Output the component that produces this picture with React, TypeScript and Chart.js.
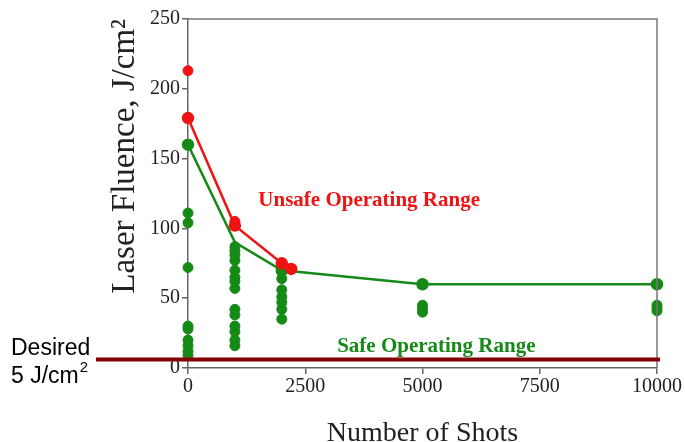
import React, { useEffect, useRef } from "react";
import { Chart, registerables } from "chart.js";

Chart.register(...registerables);

// ---- data ----
const redLineX = [0, 1000, 2000, 2200];
const redLineY = [179, 102, 75, 71];
const redExtraX = [0, 1000];
const redExtraY = [213, 105];

const greenLineX = [0, 1000, 2000, 5000, 10000];
const greenLineY = [160, 90, 70, 60, 60];

const green0 = [111, 104, 72, 30, 28, 20, 16, 12, 9];
const green1000 = [87, 84, 81, 77, 70, 65, 62, 57, 42, 38, 30, 26, 20, 16];
const green2000 = [69, 64, 56, 51, 47, 42, 35];
const green5000 = [45, 42, 40];
const green10000 = [45, 43, 41];

const xTicks = [0, 2500, 5000, 7500, 10000];
const yTicks = [0, 50, 100, 150, 200, 250];
const desiredLevel = 6;

const xTitle = "Number of Shots";
const yTitle = "Laser Fluence, J/cm²";
const unsafeLabel = "Unsafe Operating Range";
const safeLabel = "Safe Operating Range";
const unsafePos = { x: 1500, y: 120 };
const safePos = { x: 3180, y: 15 };

const RED = "#ee1414";
const GREEN = "#168a16";
const DARKRED = "#820000";

const pts = (xs: number[], ys: number[]) => xs.map((x, i) => ({ x, y: ys[i] }));
const col = (x: number, ys: number[]) => ys.map((y) => ({ x, y }));

const overlay = {
  id: "overlay",
  afterDatasetsDraw(chart: any) {
    const { ctx, chartArea, scales } = chart;
    const xs = scales.x;
    const ys = scales.y;
    ctx.save();
    // frame top + right
    ctx.strokeStyle = "#777";
    ctx.lineWidth = 1.5;
    ctx.beginPath();
    ctx.moveTo(chartArea.left, chartArea.top);
    ctx.lineTo(chartArea.right, chartArea.top);
    ctx.lineTo(chartArea.right, chartArea.bottom);
    ctx.stroke();

    // desired level line
    const yd = ys.getPixelForValue(desiredLevel);
    ctx.strokeStyle = DARKRED;
    ctx.lineWidth = 4;
    ctx.beginPath();
    ctx.moveTo(96, yd);
    ctx.lineTo(chartArea.right + 3, yd);
    ctx.stroke();

    // region labels
    ctx.font = "bold 21px 'Liberation Serif', serif";
    ctx.textBaseline = "middle";
    ctx.textAlign = "left";
    ctx.fillStyle = RED;
    ctx.fillText(unsafeLabel, xs.getPixelForValue(unsafePos.x), ys.getPixelForValue(unsafePos.y));
    ctx.fillStyle = GREEN;
    ctx.fillText(safeLabel, xs.getPixelForValue(safePos.x), ys.getPixelForValue(safePos.y));

    // desired text
    ctx.fillStyle = "#000";
    ctx.textBaseline = "alphabetic";
    ctx.font = "23px 'Liberation Sans', Arial, sans-serif";
    ctx.fillText("Desired", 11, 355);
    ctx.fillText("5 J/cm", 11, 383);
    const w = ctx.measureText("5 J/cm").width;
    ctx.font = "15px 'Liberation Sans', Arial, sans-serif";
    ctx.fillText("2", 11 + w + 1, 372);
    ctx.restore();
  },
};

export default function App() {
  const ref = useRef<HTMLCanvasElement | null>(null);
  useEffect(() => {
    if (!ref.current) return;
    const serif = "'Liberation Serif', 'Times New Roman', serif";
    const chart = new Chart(ref.current, {
      type: "scatter",
      data: {
        datasets: [
          {
            data: pts(redExtraX, redExtraY),
            backgroundColor: RED,
            borderColor: RED,
            pointRadius: 5,
            showLine: false,
            clip: false,
          } as any,
          {
            data: pts(redLineX, redLineY),
            backgroundColor: RED,
            borderColor: RED,
            borderWidth: 2.5,
            pointRadius: 5,
            showLine: true,
            clip: false,
          },
          {
            data: pts(greenLineX, greenLineY),
            backgroundColor: GREEN,
            borderColor: GREEN,
            borderWidth: 2.5,
            pointRadius: [5, 0, 5, 5, 5],
            showLine: true,
            clip: false,
          },
          {
            data: [
              ...col(0, green0),
              ...col(1000, green1000),
              ...col(2000, green2000),
              ...col(5000, green5000),
              ...col(10000, green10000),
            ],
            backgroundColor: GREEN,
            borderColor: GREEN,
            pointRadius: 5,
            showLine: false,
            clip: false,
          },
        ],
      },
      options: {
        responsive: false,
        animation: false,
        layout: { padding: { top: 19, right: 28, left: 0, bottom: 0 } },
        plugins: { legend: { display: false }, tooltip: { enabled: false } },
        scales: {
          x: {
            type: "linear",
            min: 0,
            max: 10000,
            afterBuildTicks: (s: any) => {
              s.ticks = xTicks.map((v) => ({ value: v }));
            },
            afterFit: (s: any) => {
              s.height = 74;
              s.paddingLeft = 0;
              s.paddingRight = 0;
            },
            ticks: {
              font: { family: serif, size: 20 },
              color: "#222",
              padding: 1,
              maxRotation: 0,
              callback: (v: any) => String(v),
            },
            grid: { drawOnChartArea: false, tickLength: 6, color: "#666", lineWidth: 1.5 },
            border: { color: "#666", width: 1.5 },
            title: {
              display: true,
              text: xTitle,
              font: { family: serif, size: 28 },
              color: "#222",
              padding: { top: 0, bottom: -8 },
            },
          },
          y: {
            type: "linear",
            min: 0,
            max: 250,
            afterBuildTicks: (s: any) => {
              s.ticks = yTicks.map((v) => ({ value: v }));
            },
            afterFit: (s: any) => {
              s.width = 188;
              s.paddingTop = 0;
              s.paddingBottom = 0;
            },
            ticks: {
              font: { family: serif, size: 20 },
              color: "#222",
              padding: 2,
              callback: (v: any) => String(v),
            },
            grid: { drawOnChartArea: false, tickLength: 6, color: "#666", lineWidth: 1.5 },
            border: { color: "#666", width: 1.5 },
            title: {
              display: true,
              text: yTitle,
              align: "end",
              font: { family: serif, size: 33 },
              color: "#222",
              padding: { top: 106, bottom: 0 },
            },
          },
        },
      },
      plugins: [overlay],
    });
    return () => chart.destroy();
  }, []);
  return (
    <div style={{ position: "fixed", left: 0, top: 0, width: 685, height: 442, background: "#fff" }}>
      <canvas ref={ref} width={685} height={442} style={{ width: 685, height: 442, display: "block" }} />
    </div>
  );
}
